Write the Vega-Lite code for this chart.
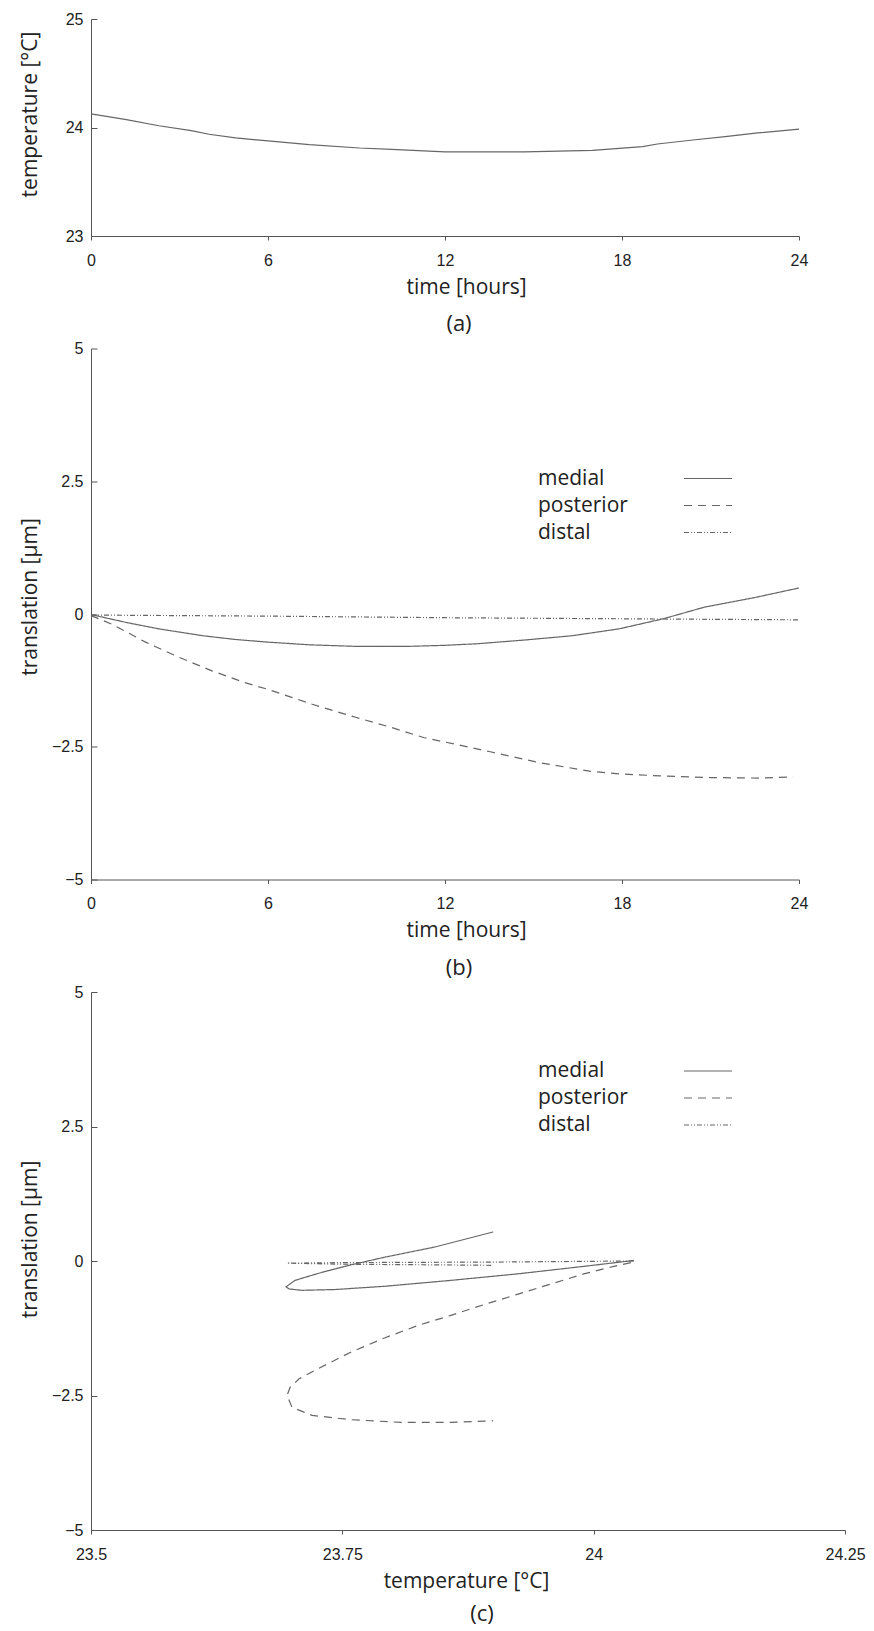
{
  "$schema": "https://vega.github.io/schema/vega-lite/v6.json",
  "background": "white",
  "padding": {"left": 18, "top": 11, "right": 5, "bottom": 5},
  "config": {
    "view": {"stroke": null},
    "font": "Open Sans",
    "axis": {
      "grid": false,
      "domainColor": "#555",
      "tickColor": "#555",
      "labelFont": "Liberation Sans",
      "labelFontSize": 16,
      "labelColor": "#222",
      "titleFont": "Open Sans",
      "titleFontSize": 21,
      "titleFontWeight": "normal",
      "titleColor": "#222",
      "labelFlush": false,
      "labelOverlap": false,
      "labelExpr": "format(datum.value, '~g')"
    },
    "axisX": {"tickSize": 4, "labelPadding": 12, "titleX": 375, "titleY": 40},
    "axisY": {"tickSize": -6, "labelPadding": 14, "titleX": -51},
    "title": {"font": "Open Sans", "fontSize": 22, "fontWeight": "normal", "color": "#222", "orient": "bottom", "anchor": "middle", "frame": "group", "offset": 17, "dx": 14},
    "legend": {
      "orient": "none",
      "title": null,
      "symbolType": "M-1.5,0H1.5",
      "symbolSize": 1024,
      "symbolStrokeWidth": 1.2,
      "symbolStrokeColor": "#666",
      "symbolFillColor": "transparent",
      "labelFont": "Open Sans",
      "labelFontSize": 21,
      "labelColor": "#222",
      "labelOffset": -187,
      "rowPadding": 0,
      "padding": 0
    }
  },
  "datasets": {
    "temp": [
      {"t": 0, "temperature": 24.125},
      {"t": 1.2, "temperature": 24.072},
      {"t": 2.3, "temperature": 24.016},
      {"t": 3.4, "temperature": 23.972},
      {"t": 4.0, "temperature": 23.938},
      {"t": 4.9, "temperature": 23.904},
      {"t": 6.0, "temperature": 23.876},
      {"t": 7.4, "temperature": 23.842},
      {"t": 9.1, "temperature": 23.811},
      {"t": 10.2, "temperature": 23.799},
      {"t": 12.0, "temperature": 23.776},
      {"t": 13.1, "temperature": 23.776},
      {"t": 14.7, "temperature": 23.776},
      {"t": 17.0, "temperature": 23.789},
      {"t": 18.7, "temperature": 23.823},
      {"t": 19.2, "temperature": 23.848},
      {"t": 20.4, "temperature": 23.885},
      {"t": 21.5, "temperature": 23.916},
      {"t": 22.6, "temperature": 23.95},
      {"t": 24.0, "temperature": 23.985}
    ],
    "trans": [
      {"series": "medial", "t": 0, "v": -0.01},
      {"series": "medial", "t": 1.2, "v": -0.16},
      {"series": "medial", "t": 2.3, "v": -0.28},
      {"series": "medial", "t": 3.8, "v": -0.41},
      {"series": "medial", "t": 4.9, "v": -0.48},
      {"series": "medial", "t": 6.0, "v": -0.53},
      {"series": "medial", "t": 7.4, "v": -0.58},
      {"series": "medial", "t": 9.0, "v": -0.61},
      {"series": "medial", "t": 10.7, "v": -0.61},
      {"series": "medial", "t": 12.0, "v": -0.59},
      {"series": "medial", "t": 13.1, "v": -0.56},
      {"series": "medial", "t": 14.7, "v": -0.49},
      {"series": "medial", "t": 16.3, "v": -0.41},
      {"series": "medial", "t": 17.9, "v": -0.28},
      {"series": "medial", "t": 19.4, "v": -0.09},
      {"series": "medial", "t": 20.8, "v": 0.13},
      {"series": "medial", "t": 22.5, "v": 0.31},
      {"series": "medial", "t": 24.0, "v": 0.49},
      {"series": "posterior", "t": 0, "v": -0.03},
      {"series": "posterior", "t": 0.7, "v": -0.19},
      {"series": "posterior", "t": 1.85, "v": -0.53},
      {"series": "posterior", "t": 3.0, "v": -0.82},
      {"series": "posterior", "t": 4.1, "v": -1.07},
      {"series": "posterior", "t": 5.2, "v": -1.29},
      {"series": "posterior", "t": 6.0, "v": -1.42},
      {"series": "posterior", "t": 7.5, "v": -1.7},
      {"series": "posterior", "t": 9.0, "v": -1.95},
      {"series": "posterior", "t": 10.2, "v": -2.14},
      {"series": "posterior", "t": 11.3, "v": -2.33},
      {"series": "posterior", "t": 12.5, "v": -2.47},
      {"series": "posterior", "t": 13.5, "v": -2.59},
      {"series": "posterior", "t": 15.2, "v": -2.8},
      {"series": "posterior", "t": 16.9, "v": -2.96},
      {"series": "posterior", "t": 17.9, "v": -3.01},
      {"series": "posterior", "t": 19.3, "v": -3.05},
      {"series": "posterior", "t": 21.0, "v": -3.08},
      {"series": "posterior", "t": 22.6, "v": -3.09},
      {"series": "posterior", "t": 23.8, "v": -3.07},
      {"series": "distal", "t": 0, "v": -0.02},
      {"series": "distal", "t": 6, "v": -0.04},
      {"series": "distal", "t": 12, "v": -0.07},
      {"series": "distal", "t": 18, "v": -0.09},
      {"series": "distal", "t": 24, "v": -0.11}
    ],
    "cycle": [
      {"series": "medial", "order": 1, "temperature": 24.04, "v": 0.01},
      {"series": "medial", "order": 2, "temperature": 23.99, "v": -0.1},
      {"series": "medial", "order": 3, "temperature": 23.924, "v": -0.24},
      {"series": "medial", "order": 4, "temperature": 23.858, "v": -0.36},
      {"series": "medial", "order": 5, "temperature": 23.792, "v": -0.47},
      {"series": "medial", "order": 6, "temperature": 23.743, "v": -0.53},
      {"series": "medial", "order": 7, "temperature": 23.71, "v": -0.545},
      {"series": "medial", "order": 8, "temperature": 23.697, "v": -0.52},
      {"series": "medial", "order": 9, "temperature": 23.694, "v": -0.48},
      {"series": "medial", "order": 10, "temperature": 23.703, "v": -0.36},
      {"series": "medial", "order": 11, "temperature": 23.726, "v": -0.23},
      {"series": "medial", "order": 12, "temperature": 23.759, "v": -0.07},
      {"series": "medial", "order": 13, "temperature": 23.792, "v": 0.07},
      {"series": "medial", "order": 14, "temperature": 23.842, "v": 0.26},
      {"series": "medial", "order": 15, "temperature": 23.9, "v": 0.54},
      {"series": "posterior", "order": 1, "temperature": 24.037, "v": -0.03},
      {"series": "posterior", "order": 2, "temperature": 24.02, "v": -0.1},
      {"series": "posterior", "order": 3, "temperature": 23.99, "v": -0.24},
      {"series": "posterior", "order": 4, "temperature": 23.957, "v": -0.43},
      {"series": "posterior", "order": 5, "temperature": 23.924, "v": -0.62},
      {"series": "posterior", "order": 6, "temperature": 23.891, "v": -0.81},
      {"series": "posterior", "order": 7, "temperature": 23.858, "v": -1.01},
      {"series": "posterior", "order": 8, "temperature": 23.825, "v": -1.2},
      {"series": "posterior", "order": 9, "temperature": 23.792, "v": -1.43},
      {"series": "posterior", "order": 10, "temperature": 23.759, "v": -1.69},
      {"series": "posterior", "order": 11, "temperature": 23.726, "v": -2.0},
      {"series": "posterior", "order": 12, "temperature": 23.707, "v": -2.19},
      {"series": "posterior", "order": 13, "temperature": 23.698, "v": -2.35},
      {"series": "posterior", "order": 14, "temperature": 23.695, "v": -2.5},
      {"series": "posterior", "order": 15, "temperature": 23.7, "v": -2.72},
      {"series": "posterior", "order": 16, "temperature": 23.72, "v": -2.87},
      {"series": "posterior", "order": 17, "temperature": 23.759, "v": -2.95},
      {"series": "posterior", "order": 18, "temperature": 23.809, "v": -3.0},
      {"series": "posterior", "order": 19, "temperature": 23.858, "v": -3.0},
      {"series": "posterior", "order": 20, "temperature": 23.9, "v": -2.97},
      {"series": "distal", "order": 1, "temperature": 24.04, "v": 0.0},
      {"series": "distal", "order": 2, "temperature": 23.9, "v": -0.02},
      {"series": "distal", "order": 3, "temperature": 23.75, "v": -0.03},
      {"series": "distal", "order": 4, "temperature": 23.695, "v": -0.04},
      {"series": "distal", "order": 5, "temperature": 23.75, "v": -0.06},
      {"series": "distal", "order": 6, "temperature": 23.83, "v": -0.07},
      {"series": "distal", "order": 7, "temperature": 23.9, "v": -0.08}
    ]
  },
  "vconcat": [
    {
      "width": 708,
      "height": 217,
      "title": "(a)",
      "data": {"name": "temp"},
      "mark": {"type": "line", "color": "#666", "strokeWidth": 1.2},
      "encoding": {
        "x": {"field": "t", "type": "quantitative", "scale": {"domain": [0, 24], "nice": false}, "axis": {"values": [0, 6, 12, 18, 24], "title": "time [hours]"}},
        "y": {"field": "temperature", "type": "quantitative", "scale": {"domain": [23, 25], "nice": false, "zero": false}, "axis": {"values": [23, 24, 25], "title": "temperature [°C]", "titleY": 95}}
      }
    },
    {
      "width": 708,
      "height": 531,
      "title": "(b)",
      "data": {"name": "trans"},
      "mark": {"type": "line", "color": "#666", "strokeWidth": 1.2},
      "encoding": {
        "x": {"field": "t", "type": "quantitative", "scale": {"domain": [0, 24], "nice": false}, "axis": {"values": [0, 6, 12, 18, 24], "title": "time [hours]"}},
        "y": {"field": "v", "type": "quantitative", "scale": {"domain": [-5, 5], "nice": false}, "axis": {"values": [-5, -2.5, 0, 2.5, 5], "title": "translation [μm]", "titleY": 248}},
        "strokeDash": {"field": "series", "type": "nominal", "scale": {"domain": ["medial", "posterior", "distal"], "range": [[1, 0], [8, 6], [5, 2, 1, 2, 1, 2]]}, "legend": {"legendX": 600, "legendY": 113}}
      }
    },
    {
      "width": 754,
      "height": 538,
      "title": {"text": "(c)", "offset": 13},
      "data": {"name": "cycle"},
      "mark": {"type": "line", "color": "#666", "strokeWidth": 1.2},
      "encoding": {
        "x": {"field": "temperature", "type": "quantitative", "scale": {"domain": [23.5, 24.25], "nice": false, "zero": false}, "axis": {"values": [23.5, 23.75, 24, 24.25], "title": "temperature [°C]"}},
        "y": {"field": "v", "type": "quantitative", "scale": {"domain": [-5, 5], "nice": false}, "axis": {"values": [-5, -2.5, 0, 2.5, 5], "title": "translation [μm]", "titleY": 247}},
        "order": {"field": "order", "type": "quantitative"},
        "strokeDash": {"field": "series", "type": "nominal", "scale": {"domain": ["medial", "posterior", "distal"], "range": [[1, 0], [8, 6], [5, 2, 1, 2, 1, 2]]}, "legend": {"legendX": 600, "legendY": 62}}
      }
    }
  ],
  "spacing": 112.5,
  "bounds": "flush",
  "resolve": {"scale": {"x": "independent", "y": "independent", "strokeDash": "independent"}, "legend": {"strokeDash": "independent"}}
}
